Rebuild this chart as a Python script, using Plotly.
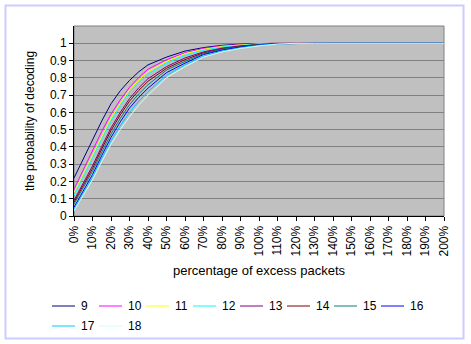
import plotly.graph_objects as go

# excess packets (%) at which the decoding probability was measured
excess_pct = [0, 5, 10, 15, 20, 25, 30, 35, 40, 50, 60, 70, 80, 90, 100,
              110, 120, 130, 140, 150, 160, 170, 180, 190, 200]

series_names = ["9", "10", "11", "12", "13", "14", "15", "16", "17", "18"]

p9 = [0.22, 0.335, 0.44, 0.55, 0.65, 0.725, 0.785, 0.835, 0.875, 0.92, 0.955, 0.975, 0.988,
      0.995, 0.999, 1, 1, 1, 1, 1, 1, 1, 1, 1, 1]
p10 = [0.155, 0.27, 0.38, 0.49, 0.59, 0.672, 0.745, 0.802, 0.85, 0.905, 0.945, 0.97, 0.985,
       0.993, 0.998, 1, 1, 1, 1, 1, 1, 1, 1, 1, 1]
p11 = [0.135, 0.245, 0.352, 0.462, 0.567, 0.653, 0.73, 0.787, 0.835, 0.895, 0.94, 0.965, 0.982,
       0.991, 0.997, 1, 1, 1, 1, 1, 1, 1, 1, 1, 1]
p12 = [0.12, 0.23, 0.335, 0.445, 0.55, 0.637, 0.715, 0.772, 0.82, 0.885, 0.93, 0.96, 0.978,
       0.989, 0.996, 0.999, 1, 1, 1, 1, 1, 1, 1, 1, 1]
p13 = [0.09, 0.192, 0.29, 0.403, 0.51, 0.60, 0.68, 0.742, 0.795, 0.865, 0.915, 0.95, 0.972,
       0.985, 0.994, 0.999, 1, 1, 1, 1, 1, 1, 1, 1, 1]
p14 = [0.08, 0.18, 0.275, 0.388, 0.495, 0.585, 0.665, 0.727, 0.78, 0.855, 0.905, 0.945, 0.968,
       0.983, 0.993, 0.998, 1, 1, 1, 1, 1, 1, 1, 1, 1]
p15 = [0.07, 0.168, 0.26, 0.37, 0.475, 0.565, 0.645, 0.707, 0.76, 0.845, 0.895, 0.94, 0.965,
       0.98, 0.992, 0.998, 1, 1, 1, 1, 1, 1, 1, 1, 1]
p16 = [0.05, 0.148, 0.24, 0.35, 0.455, 0.545, 0.625, 0.687, 0.74, 0.83, 0.885, 0.935, 0.96,
       0.978, 0.99, 0.997, 1, 1, 1, 1, 1, 1, 1, 1, 1]
p17 = [0.04, 0.135, 0.225, 0.333, 0.435, 0.522, 0.60, 0.665, 0.72, 0.815, 0.875, 0.925, 0.955,
       0.974, 0.988, 0.996, 1, 1, 1, 1, 1, 1, 1, 1, 1]
p18 = [0.03, 0.122, 0.21, 0.315, 0.415, 0.50, 0.575, 0.642, 0.70, 0.80, 0.865, 0.92, 0.95,
       0.97, 0.985, 0.995, 1, 1, 1, 1, 1, 1, 1, 1, 1]

series_values = [p9, p10, p11, p12, p13, p14, p15, p16, p17, p18]
series_colors = ["#000080", "#FF00FF", "#FFFF00", "#00FFFF", "#800080",
                 "#800000", "#008080", "#0000FF", "#00CCFF", "#CCFFFF"]

y_ticks = [0, 0.1, 0.2, 0.3, 0.4, 0.5, 0.6, 0.7, 0.8, 0.9, 1]
y_tick_labels = ["0", "0.1", "0.2", "0.3", "0.4", "0.5", "0.6", "0.7", "0.8", "0.9", "1"]
x_ticks = list(range(0, 201, 10))
x_tick_labels = [f"{v}%" for v in x_ticks]

FONT = "Liberation Sans, Arial, sans-serif"

fig = go.Figure()
for name, vals, col in zip(series_names, series_values, series_colors):
    fig.add_trace(go.Scatter(x=excess_pct, y=vals, name=name, mode="lines",
                             line=dict(color=col, width=1), showlegend=False))

W, H = 471, 344
L, R, T, B = 74, 444, 26, 216


def px_x(px):
    return (px - L) / (R - L)


def px_y(py):
    return (B - py) / (B - T)


fig.update_layout(
    width=W, height=H,
    margin=dict(l=L, r=W - R, t=T, b=H - B, pad=0, autoexpand=False),
    paper_bgcolor="white",
    plot_bgcolor="#C0C0C0",
    font=dict(family=FONT, size=11, color="black"),
    showlegend=False,
    xaxis=dict(range=[0, 200], tickvals=x_ticks, ticktext=x_tick_labels,
               tickangle=-90, ticks="outside", ticklen=4, tickcolor="black",
               showline=True, linecolor="black", linewidth=1, showgrid=False,
               zeroline=False, tickfont=dict(size=12), automargin=False,
               title=dict(text="percentage of excess packets", font=dict(size=13),
                          standoff=10)),
    yaxis=dict(range=[0, 1.1], tickvals=y_ticks, ticktext=y_tick_labels,
               ticks="outside", ticklen=4, tickcolor="black",
               showline=True, linecolor="black", linewidth=1,
               showgrid=True, gridcolor="#808080", gridwidth=1, zeroline=False,
               tickfont=dict(size=12), automargin=False,
               title=dict(text="the probability of decoding", font=dict(size=12),
                          standoff=12)),
)

# plot-area frame (top and right edges)
fig.add_shape(type="rect", xref="paper", yref="paper", x0=0, x1=1, y0=0, y1=1,
              line=dict(color="#808080", width=1), layer="below")
# chart-area border
fig.add_shape(type="rect", xref="paper", yref="paper",
              x0=px_x(5.5), x1=px_x(463.5), y0=px_y(338.5), y1=px_y(5.5),
              line=dict(color="#CCCCFF", width=2))

# legend: two rows of short line samples with labels
for i, (name, col) in enumerate(zip(series_names, series_colors)):
    row, colno = divmod(i, 8)
    x0 = 52 + 47 * colno
    yc = 306 + 20 * row
    fig.add_shape(type="line", xref="paper", yref="paper",
                  x0=px_x(x0), x1=px_x(x0 + 23), y0=px_y(yc), y1=px_y(yc),
                  line=dict(color=col, width=1))
    fig.add_annotation(xref="paper", yref="paper", x=px_x(x0 + 27), y=px_y(yc),
                       text=name, showarrow=False, xanchor="left", yanchor="middle",
                       font=dict(size=12))

fig.write_html("out.html")
